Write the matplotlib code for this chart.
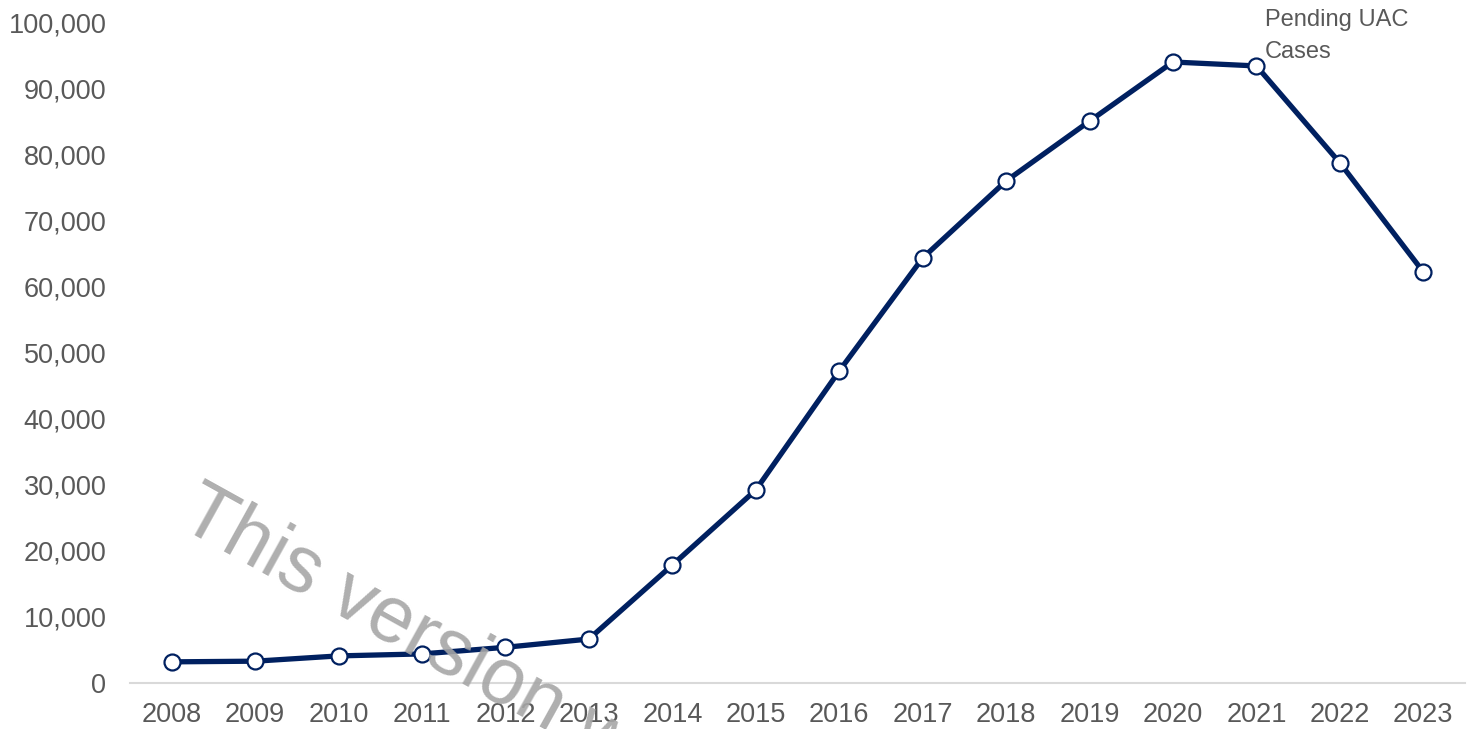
import matplotlib.pyplot as plt
from matplotlib.ticker import FuncFormatter

years = ["2008", "2009", "2010", "2011", "2012", "2013", "2014", "2015",
         "2016", "2017", "2018", "2019", "2020", "2021", "2022", "2023"]
pending = [3200, 3300, 4100, 4400, 5400, 6650, 17850, 29200,
           47200, 64300, 75950, 85000, 93950, 93350, 78700, 62200]
series_label = "Pending UAC\nCases"

navy = "#002060"
grey_text = "#595959"

plt.rcParams['font.family'] = ['Liberation Sans', 'DejaVu Sans']

fig = plt.figure(figsize=(14.71, 7.29), dpi=100)
ax = fig.add_axes([130 / 1471, 46 / 729, 1335 / 1471, 661 / 729])

x = list(range(len(years)))
ax.plot(x, pending, color=navy, linewidth=3.8, marker="o", markersize=11.5,
        markerfacecolor="white", markeredgecolor=navy, markeredgewidth=1.6,
        zorder=3)

ax.set_xlim(-0.5, len(years) - 0.5)
ax.set_ylim(0, 100000)
ax.set_xticks(x)
ax.set_xticklabels(years)
ax.set_yticks(range(0, 100001, 10000))
ax.yaxis.set_major_formatter(FuncFormatter(lambda v, p: f"{int(v):,}"))
ax.tick_params(axis="both", length=0, labelsize=19.5, labelcolor=grey_text)
ax.tick_params(axis="y", pad=17)
ax.tick_params(axis="x", pad=14)

for side in ["top", "right", "left"]:
    ax.spines[side].set_visible(False)
ax.spines["bottom"].set_color("#D9D9D9")
ax.spines["bottom"].set_linewidth(1.5)

ax.annotate(series_label, xy=(13, pending[13]), xytext=(6, 41),
            textcoords="offset points", ha="left", va="top",
            fontsize=17, color=grey_text, linespacing=1.6)

fig.text(204 / 1471, 1 - 474 / 729, "This version was updated", rotation=-29,
         rotation_mode="anchor", ha="left", va="top", fontsize=57,
         color="#A6A6A6", alpha=0.9, zorder=5)

fig.savefig("out.png", dpi=100)
